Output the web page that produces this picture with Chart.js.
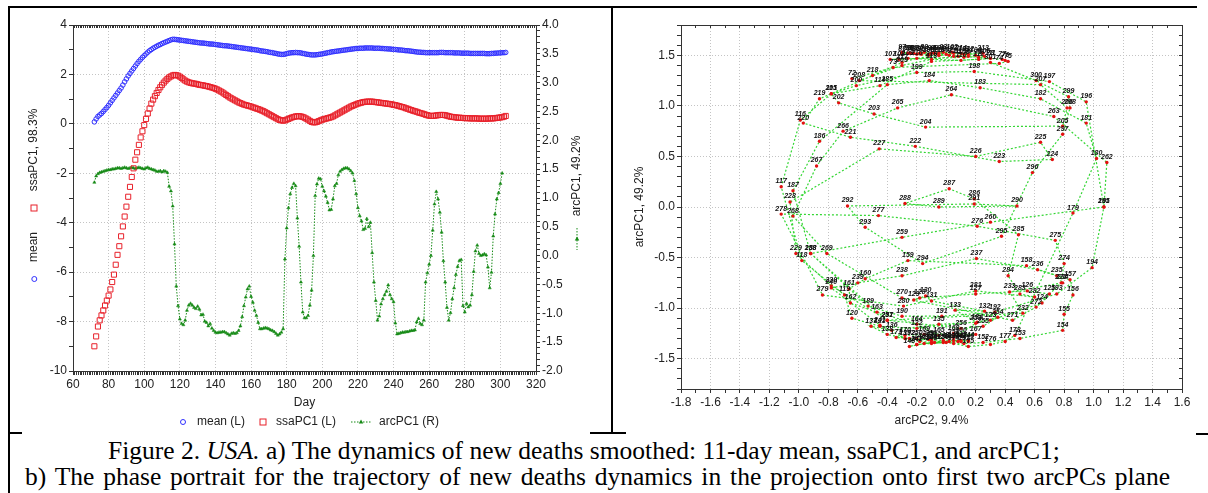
<!DOCTYPE html>
<html>
<head>
<meta charset="utf-8">
<script src="https://cdn.jsdelivr.net/npm/chart.js@4.4.0/dist/chart.umd.min.js"></script>
<style>
  html, body { margin: 0; padding: 0; background: #fff; }
  body { width: 1208px; height: 493px; position: relative; overflow: hidden; }
  canvas { position: absolute; }
  #left { left: 10px; top: 9px; }
  #right { left: 614px; top: 9px; }
  .rule { position: absolute; background: #000; }
  .cap { position: absolute; font-family: "Liberation Serif", "Times New Roman", serif; font-size: 25.5px; line-height: 26px; color: #000; white-space: nowrap; }
</style>
</head>
<body>
<div class="rule" style="left:8px; top:6px; width:1189px; height:2px"></div>
<div class="rule" style="left:8px; top:6px; width:2px; height:487px"></div>
<div class="rule" style="left:611px; top:6px; width:2px; height:428px"></div>
<div class="rule" style="left:8px; top:432px; width:14px; height:2px"></div>
<div class="rule" style="left:590px; top:432px; width:36px; height:2px"></div>
<div class="rule" style="left:1196px; top:433px; width:12px; height:2px"></div>

<canvas id="left" width="600" height="423"></canvas>
<canvas id="right" width="594" height="423"></canvas>

<div class="cap" id="cap1" style="left:115px; top:438px">Figure 2. <i>USA.</i> a) The dynamics of new deaths smoothed: 11-day mean, ssaPC1, and arcPC1;</div>
<div class="cap" id="cap2" style="left:25px; top:464px">b) The phase portrait for the trajectory of new deaths dynamics in the projection onto first two arcPCs plane</div>

<script>
// first day of every series (one value per day after that)
const FIRST_DAY = 72;

// 11-day mean, left axis (days 72..303)
const meanValues = [
  0.08, 0.2, 0.3, 0.36, 0.42, 0.5, 0.58, 0.66, 0.75, 0.85,
  0.95, 1.05, 1.15, 1.25, 1.35, 1.45, 1.57, 1.7, 1.82, 1.94,
  2.04, 2.14, 2.24, 2.34, 2.44, 2.53, 2.61, 2.69, 2.76, 2.83,
  2.9, 2.96, 3.01, 3.06, 3.1, 3.14, 3.18, 3.21, 3.25, 3.28,
  3.31, 3.34, 3.37, 3.4, 3.42, 3.42, 3.41, 3.4, 3.39, 3.38,
  3.37, 3.36, 3.35, 3.34, 3.33, 3.32, 3.31, 3.3, 3.29, 3.28,
  3.27, 3.27, 3.26, 3.25, 3.24, 3.23, 3.23, 3.22, 3.21, 3.2,
  3.19, 3.18, 3.17, 3.16, 3.16, 3.15, 3.14, 3.13, 3.12, 3.11,
  3.1, 3.09, 3.08, 3.07, 3.06, 3.05, 3.04, 3.03, 3.02, 3.01,
  3.0, 2.99, 2.98, 2.96, 2.95, 2.94, 2.93, 2.92, 2.9, 2.89,
  2.88, 2.86, 2.85, 2.83, 2.82, 2.81, 2.81, 2.82, 2.84, 2.86,
  2.87, 2.88, 2.88, 2.89, 2.88, 2.88, 2.87, 2.85, 2.84, 2.82,
  2.81, 2.8, 2.79, 2.79, 2.79, 2.8, 2.81, 2.82, 2.83, 2.85,
  2.86, 2.88, 2.89, 2.91, 2.92, 2.93, 2.94, 2.95, 2.96, 2.97,
  2.98, 2.99, 3.0, 3.01, 3.02, 3.03, 3.04, 3.05, 3.05, 3.06,
  3.06, 3.06, 3.07, 3.07, 3.07, 3.07, 3.07, 3.06, 3.06, 3.06,
  3.06, 3.05, 3.05, 3.04, 3.04, 3.03, 3.03, 3.02, 3.01, 3.01,
  3.0, 2.99, 2.99, 2.98, 2.97, 2.96, 2.96, 2.95, 2.94, 2.93,
  2.92, 2.91, 2.9, 2.9, 2.89, 2.89, 2.88, 2.88, 2.88, 2.88,
  2.88, 2.88, 2.88, 2.88, 2.89, 2.89, 2.89, 2.88, 2.88, 2.88,
  2.88, 2.88, 2.87, 2.87, 2.87, 2.87, 2.86, 2.86, 2.86, 2.86,
  2.86, 2.85, 2.85, 2.85, 2.85, 2.85, 2.85, 2.85, 2.85, 2.85,
  2.84, 2.84, 2.84, 2.85, 2.85, 2.86, 2.86, 2.87, 2.87, 2.88,
  2.88, 2.89
];

// ssaPC1, left axis (days 72..303)
const ssaValues = [
  -9.0, -8.6, -8.2, -7.95, -7.75, -7.55, -7.35, -7.15, -6.95, -6.7,
  -6.4, -6.1, -5.7, -5.3, -4.95, -4.55, -4.15, -3.75, -3.35, -2.95,
  -2.55, -2.15, -1.8, -1.45, -1.15, -0.85, -0.55, -0.3, -0.05, 0.2,
  0.42, 0.62, 0.82, 0.98, 1.12, 1.25, 1.37, 1.48, 1.58, 1.67,
  1.75, 1.82, 1.88, 1.92, 1.96, 1.98, 1.97, 1.95, 1.91, 1.86,
  1.8, 1.75, 1.71, 1.68, 1.66, 1.64, 1.63, 1.62, 1.6, 1.58,
  1.57, 1.56, 1.54, 1.53, 1.51, 1.49, 1.47, 1.45, 1.42, 1.39,
  1.35, 1.31, 1.27, 1.22, 1.17, 1.12, 1.07, 1.03, 0.99, 0.95,
  0.91, 0.87, 0.84, 0.81, 0.78, 0.76, 0.74, 0.72, 0.7, 0.67,
  0.65, 0.62, 0.6, 0.57, 0.54, 0.51, 0.47, 0.43, 0.39, 0.35,
  0.31, 0.27, 0.23, 0.19, 0.16, 0.14, 0.13, 0.14, 0.17, 0.2,
  0.23, 0.26, 0.28, 0.3, 0.31, 0.31, 0.3, 0.28, 0.25, 0.21,
  0.17, 0.12, 0.08, 0.06, 0.06, 0.08, 0.11, 0.14, 0.17, 0.19,
  0.21, 0.23, 0.25, 0.27, 0.3, 0.34, 0.38, 0.42, 0.46, 0.5,
  0.54, 0.58, 0.62, 0.66, 0.7, 0.73, 0.76, 0.79, 0.82, 0.84,
  0.86, 0.88, 0.89, 0.9, 0.9, 0.9, 0.9, 0.89, 0.88, 0.87,
  0.86, 0.85, 0.84, 0.83, 0.82, 0.81, 0.8, 0.79, 0.77, 0.76,
  0.74, 0.72, 0.7, 0.68, 0.66, 0.63, 0.61, 0.58, 0.56, 0.53,
  0.51, 0.49, 0.46, 0.44, 0.42, 0.4, 0.37, 0.35, 0.33, 0.32,
  0.32, 0.33, 0.34, 0.35, 0.36, 0.36, 0.36, 0.35, 0.33, 0.31,
  0.29, 0.28, 0.27, 0.26, 0.25, 0.25, 0.24, 0.24, 0.23, 0.23,
  0.23, 0.22, 0.22, 0.22, 0.22, 0.22, 0.21, 0.21, 0.21, 0.21,
  0.21, 0.21, 0.22, 0.22, 0.22, 0.23, 0.24, 0.25, 0.26, 0.27,
  0.29, 0.32
];

// arcPC1, right axis of a) and vertical axis of b) (days 72..301)
const arcPC1Values = [
  1.27, 1.38, 1.42, 1.44, 1.45, 1.46, 1.47, 1.48, 1.49, 1.49,
  1.5, 1.5, 1.51, 1.52, 1.52, 1.51, 1.52, 1.53, 1.52, 1.51,
  1.52, 1.53, 1.52, 1.51, 1.52, 1.53, 1.52, 1.51, 1.5, 1.52,
  1.53, 1.51, 1.5, 1.49, 1.48, 1.46, 1.46, 1.47, 1.45, 1.47,
  1.46, 1.44, 1.2, 1.12, 0.86, 0.2, -0.53, -0.87, -1.1, -1.18,
  -1.2, -1.12, -0.95, -0.86, -0.83, -0.86, -0.9, -0.92, -0.88, -0.93,
  -1.03, -1.02, -1.14, -1.16, -1.22, -1.18, -1.26, -1.3, -1.33, -1.34,
  -1.33, -1.33, -1.32, -1.32, -1.34, -1.36, -1.38, -1.35, -1.34, -1.35,
  -1.34, -1.3, -1.22, -1.06, -0.87, -0.72, -0.58, -0.53, -0.71, -0.81,
  -0.95, -1.04, -1.16, -1.27, -1.27, -1.26, -1.25, -1.26, -1.27, -1.29,
  -1.3, -1.32, -1.35, -1.38, -1.36, -1.33, -1.27, -0.06, 0.48, 0.83,
  1.07, 1.18, 1.25, 1.21, 0.65, 0.16, -0.46, -0.98, -1.08, -1.08,
  -1.04, -0.86, -0.6, 0.0, 1.04, 1.24, 1.34, 1.33, 1.2, 1.12,
  1.03, 0.92, 0.79, 0.8, 0.98, 1.21, 1.25, 1.4, 1.46, 1.49,
  1.51, 1.52, 1.52, 1.5, 1.47, 1.43, 1.3, 1.07, 0.83, 0.69,
  0.6, 0.45, 0.47, 0.64, 0.5, 0.575, 0.05, -0.46, -0.78, -1.12,
  -1.05, -0.84, -0.75, -0.68, -0.62, -0.51, -0.68, -0.75, -0.8, -1.17,
  -1.36, -1.35, -1.34, -1.33, -1.33, -1.32, -1.32, -1.31, -1.3, -1.3,
  -1.29, -1.15, -1.09, -1.18, -1.2, -1.12, -0.46, -0.3, -0.15, 0.0,
  0.44, 0.895, 1.11, 0.98, 0.75, 0.405, -0.09, -0.46, -0.9, -1.12,
  -0.99, -0.75, -0.56, -0.33, -0.19, -0.085, -0.07, -0.87, -0.98, -0.83,
  -0.89, -0.86, -0.68, -0.275, 0.08, 0.18, 0.035, 0.0, 0.01, 0.03,
  0.01, -0.2, -0.56, -0.29, 0.34, 0.72, 0.98, 1.09, 1.25, 1.43
];

// arcPC2, horizontal axis of b) (days 72..301)
const arcPC2Values = [
  -0.64, -0.36, 0.36, 0.42, 0.4, 0.38, 0.3, 0.22, 0.15, 0.08,
  0.02, -0.05, -0.12, -0.18, -0.25, -0.3, -0.22, -0.15, -0.08, 0.0,
  0.05, -0.02, -0.1, -0.17, -0.24, -0.3, -0.26, -0.2, -0.12, -0.05,
  0.04, 0.12, 0.2, 0.26, 0.12, -0.38, -0.32, -0.26, 0.1, 0.3,
  0.22, -0.1, -0.45, -0.78, -0.99, -1.12, -0.98, -0.69, -0.64, -0.45,
  -0.2, 0.3, 0.65, 0.7, 0.55, 0.2, -0.18, -0.22, -0.14, -0.1,
  0.26, 0.06, 0.21, -0.05, -0.37, -0.51, -0.4, -0.28, -0.18, -0.08,
  0.02, 0.1, 0.15, 0.05, -0.1, -0.2, -0.25, -0.15, -0.02, 0.12,
  0.25, 0.5, 0.79, 0.8, 0.86, 0.84, 0.545, -0.26, -0.55, -0.66,
  -0.65, -0.47, -0.2, -0.05, 0.1, 0.2, 0.05, -0.15, -0.28, -0.34,
  -0.25, -0.1, 0.05, 0.15, 0.3, 0.4, 0.465, 0.86, 1.02, 0.95,
  0.64, 0.23, -0.115, -0.4, -0.86, -1.04, -0.92, -0.53, -0.3, -0.03,
  0.33, 0.75, 0.99, 1.07, 0.95, 0.7, 0.19, -0.2, -0.61, -0.78,
  -0.73, -0.49, -0.14, 0.79, 0.82, 0.64, -0.59, -0.3, -0.1, 0.05,
  0.15, 0.25, 0.1, -0.05, -0.2, -0.3, -0.5, -0.86, -0.97, -0.65,
  -0.21, 0.36, 0.72, 0.64, 0.2, -0.455, -1.06, -1.02, -0.78, -0.4,
  0.52, 0.43, 0.79, 0.75, 0.62, 0.205, -0.3, -0.6, -0.78, -0.45,
  -0.2, -0.1, 0.0, 0.08, 0.15, 0.1, -0.02, -0.12, -0.2, -0.1,
  0.05, 0.2, 0.35, 0.25, 0.1, -0.4, -0.92, -0.3, 0.3, 1.07,
  1.09, 0.73, 0.035, -0.33, -0.7, -0.88, -1.04, -0.81, -0.3, 0.45,
  0.61, 0.78, 0.8, 0.74, 0.21, -0.46, -1.12, -0.84, -0.29, 0.2,
  0.6, 0.5, 0.42, 0.49, 0.19, 0.02, -0.28, -0.05, 0.48, 0.19,
  -0.67, -0.55, -0.16, 0.375, 0.585, 0.79, 0.84, 0.83, 0.61, 0.3
];

const days = meanValues.map((_, i) => FIRST_DAY + i);
const arcDays = arcPC1Values.map((_, i) => FIRST_DAY + i);

const BLUE = '#2f2fff';
const RED = '#e8202a';
const DARK_GREEN = '#168a16';
const LIME = '#33d633';
const DOT_RED = '#e31010';
const FONT = '"Liberation Sans", Arial, sans-serif';

Chart.defaults.font.family = FONT;
Chart.defaults.font.size = 12;
Chart.defaults.color = '#222';

// ticks in integer steps of 1/div, "major" every `every` steps
function tickSet(lo, hi, every, div) {
  const out = [];
  for (let k = lo; k <= hi; k++) out.push({ value: k / div, major: k % every === 0 });
  return out;
}

const gridColor = c => (c.tick && c.tick.major) ? '#c4c4c4' : 'rgba(0,0,0,0)';

// labelled axis
function axis(position, min, max, ticks, fmt, size, extra) {
  return Object.assign({
    type: 'linear', position, min, max,
    afterBuildTicks: s => { s.ticks = ticks.map(t => ({ ...t })); },
    afterFit: s => { if (s.isHorizontal()) s.height = size; else s.width = size; },
    border: { color: '#333', width: 1, dash: [1, 2] },
    grid: { color: gridColor, lineWidth: 1, tickColor: '#333', tickLength: 4, tickBorderDash: [] },
    ticks: {
      autoSkip: false, maxRotation: 0, padding: 2, color: '#222',
      callback: (v, i, arr) => arr[i].major ? fmt(v) : ''
    }
  }, extra || {});
}

// frame side without labels, ticks pointing inwards
function frame(axisName, position, min, max, ticks, size) {
  return {
    type: 'linear', axis: axisName, position, min, max,
    afterBuildTicks: s => { s.ticks = ticks.map(t => ({ ...t })); },
    afterFit: s => { if (s.isHorizontal()) s.height = size; else s.width = size; },
    border: { color: '#333', width: 1 },
    grid: { drawOnChartArea: false, tickColor: '#333', tickLength: -3, color: 'rgba(0,0,0,0)' },
    ticks: { display: false }
  };
}

function vText(ctx, text, x, y) {
  ctx.save();
  ctx.translate(x, y);
  ctx.rotate(-Math.PI / 2);
  ctx.fillText(text, 0, 0);
  ctx.restore();
}

function triangle(ctx, x, y, r) {
  ctx.beginPath();
  ctx.moveTo(x, y - r);
  ctx.lineTo(x + r * 0.9, y + r * 0.6);
  ctx.lineTo(x - r * 0.9, y + r * 0.6);
  ctx.closePath();
  ctx.fill();
}

// titles and legend of chart a)
const leftDecor = {
  id: 'leftDecor',
  afterDraw(chart) {
    const ctx = chart.ctx;
    const a = chart.chartArea;
    ctx.save();
    ctx.fillStyle = '#222';
    ctx.font = '12px ' + FONT;
    ctx.textAlign = 'center';
    ctx.textBaseline = 'middle';
    ctx.fillText('Day', (a.left + a.right) / 2, 394);
    vText(ctx, 'ssaPC1, 98.3%', 24, 141);
    vText(ctx, 'mean', 24, 238);
    vText(ctx, 'arcPC1, 49.2%', 567, 167);

    ctx.lineWidth = 1;
    ctx.strokeStyle = RED;
    ctx.strokeRect(21, 196, 6, 6);
    ctx.strokeStyle = BLUE;
    ctx.beginPath(); ctx.arc(24.3, 270, 2.5, 0, Math.PI * 2); ctx.stroke();
    ctx.strokeStyle = DARK_GREEN;
    ctx.setLineDash([1.5, 1.5]);
    ctx.beginPath(); ctx.moveTo(567, 219); ctx.lineTo(567, 241); ctx.stroke();
    ctx.setLineDash([]);
    ctx.fillStyle = DARK_GREEN;
    triangle(ctx, 567, 230, 2.5);

    // legend row
    const ly = 413;
    ctx.strokeStyle = BLUE;
    ctx.beginPath(); ctx.arc(173, ly, 2.5, 0, Math.PI * 2); ctx.stroke();
    ctx.strokeStyle = RED;
    ctx.strokeRect(250, ly - 3, 6, 6);
    ctx.strokeStyle = DARK_GREEN;
    ctx.setLineDash([1.5, 1.5]);
    ctx.beginPath(); ctx.moveTo(341, ly); ctx.lineTo(361, ly); ctx.stroke();
    ctx.setLineDash([]);
    triangle(ctx, 351, ly, 2.5);
    ctx.fillStyle = '#222';
    ctx.textAlign = 'left';
    ctx.fillText('mean (L)', 187, ly);
    ctx.fillText('ssaPC1 (L)', 266, ly);
    ctx.fillText('arcPC1 (R)', 369, ly);
    ctx.restore();
  }
};

// titles of chart b)
const rightDecor = {
  id: 'rightDecor',
  afterDraw(chart) {
    const ctx = chart.ctx;
    const a = chart.chartArea;
    ctx.save();
    ctx.fillStyle = '#222';
    ctx.font = '12px ' + FONT;
    ctx.textAlign = 'center';
    ctx.textBaseline = 'middle';
    ctx.fillText('arcPC2, 9.4%', (a.left + a.right) / 2, 412);
    vText(ctx, 'arcPC1, 49.2%', 26, (a.top + a.bottom) / 2);
    ctx.restore();
  }
};

// day number written next to every point of b)
const dayLabels = {
  id: 'dayLabels',
  afterDatasetsDraw(chart) {
    const ctx = chart.ctx;
    const pts = chart.getDatasetMeta(0).data;
    ctx.save();
    ctx.font = 'italic bold 7px ' + FONT;
    ctx.fillStyle = '#111';
    ctx.textAlign = 'center';
    ctx.textBaseline = 'bottom';
    pts.forEach((p, i) => ctx.fillText(String(arcDays[i]), p.x, p.y - 2));
    ctx.restore();
  }
};

const common = {
  responsive: false,
  animation: false,
  devicePixelRatio: 1,
  events: [],
  layout: { padding: 0 },
  plugins: { legend: { display: false }, tooltip: { enabled: false } }
};

// a) dynamics
new Chart(document.getElementById('left'), {
  type: 'line',
  data: {
    datasets: [
      {
        label: 'mean (L)', yAxisID: 'y', showLine: false,
        data: days.map((d, i) => ({ x: d, y: meanValues[i] })),
        pointStyle: 'circle', pointRadius: 2.3, pointBorderWidth: 1,
        pointBorderColor: BLUE, pointBackgroundColor: 'rgba(0,0,0,0)', borderColor: BLUE
      },
      {
        label: 'ssaPC1 (L)', yAxisID: 'y', showLine: false,
        data: days.map((d, i) => ({ x: d, y: ssaValues[i] })),
        pointStyle: 'rect', pointRadius: 3.6, pointBorderWidth: 1,
        pointBorderColor: RED, pointBackgroundColor: 'rgba(0,0,0,0)', borderColor: RED
      },
      {
        label: 'arcPC1 (R)', yAxisID: 'y2', showLine: true,
        data: arcDays.map((d, i) => ({ x: d, y: arcPC1Values[i] })),
        borderColor: DARK_GREEN, borderWidth: 1, borderDash: [1.5, 1.5], tension: 0,
        pointStyle: 'triangle', pointRadius: 1.8, pointBorderWidth: 0.5,
        pointBorderColor: DARK_GREEN, pointBackgroundColor: DARK_GREEN
      }
    ]
  },
  options: Object.assign({}, common, {
    scales: {
      x: axis('bottom', 60, 320, tickSet(60, 320, 20, 1), v => String(v), 61),
      xTop: frame('x', 'top', 60, 320, tickSet(60, 320, 20, 1), 16),
      y: axis('left', -10, 4, tickSet(-10, 4, 2, 1), v => String(v), 63),
      y2: axis('right', -2, 4, tickSet(-20, 40, 5, 10), v => v.toFixed(1), 74,
        { grid: { drawOnChartArea: false, tickColor: '#333', tickLength: 4, color: 'rgba(0,0,0,0)' } })
    }
  }),
  plugins: [leftDecor]
});

// b) phase portrait
new Chart(document.getElementById('right'), {
  type: 'scatter',
  data: {
    datasets: [{
      data: arcDays.map((d, i) => ({ x: arcPC2Values[i], y: arcPC1Values[i] })),
      showLine: true, borderColor: LIME, borderWidth: 1.2, borderDash: [2, 2],
      pointRadius: 1.7, pointBorderWidth: 0,
      pointBackgroundColor: DOT_RED, pointBorderColor: DOT_RED
    }]
  },
  options: Object.assign({}, common, {
    scales: {
      x: axis('bottom', -1.8, 1.6, tickSet(-18, 16, 2, 10), v => v.toFixed(1), 43),
      xTop: frame('x', 'top', -1.8, 1.6, tickSet(-18, 16, 2, 10), 16),
      y: axis('left', -1.8, 1.8, tickSet(-18, 18, 5, 10), v => v.toFixed(1), 67),
      yRight: frame('y', 'right', -1.8, 1.8, tickSet(-18, 18, 5, 10), 26)
    }
  }),
  plugins: [rightDecor, dayLabels]
});

// caption: first line centred where it sits in the figure, second line
// spread a little towards the right edge (word gaps kept modest)
const cap1 = document.getElementById('cap1');
cap1.style.left = Math.round(584 - cap1.getBoundingClientRect().width / 2) + 'px';
const cap2 = document.getElementById('cap2');
const gaps = (cap2.textContent.match(/ /g) || []).length;
const extra = (1158 - cap2.getBoundingClientRect().width) / gaps;
cap2.style.wordSpacing = Math.max(-1, Math.min(2.5, extra)).toFixed(2) + 'px';
</script>
</body>
</html>
